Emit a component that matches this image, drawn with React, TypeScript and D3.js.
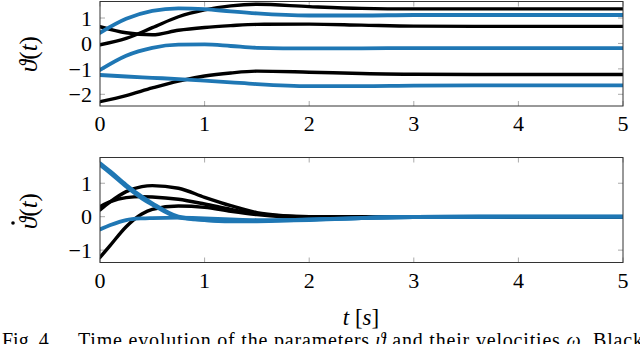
import React from "react";
import * as d3 from "d3";

// time samples (s)
const tTop = [0, 0.25, 0.5, 0.75, 1, 1.25, 1.5, 2, 2.5, 3, 4, 5];
const tBot = [0, 0.1, 0.25, 0.4, 0.5, 0.75, 1, 1.25, 1.5, 1.75, 2, 2.5, 3, 4, 5];

// parameters theta(t), black = one set, blue = the other
const thetaBlack = [
  [-0.05, 0.2, 0.62, 1.05, 1.32, 1.48, 1.54, 1.45, 1.38, 1.36, 1.36, 1.36],
  [0.66, 0.42, 0.34, 0.52, 0.63, 0.7, 0.75, 0.76, 0.72, 0.68, 0.67, 0.67],
  [-2.29, -2.05, -1.75, -1.48, -1.28, -1.16, -1.09, -1.13, -1.18, -1.21, -1.22, -1.22],
];
const thetaBlue = [
  [0.42, 0.97, 1.28, 1.38, 1.35, 1.26, 1.18, 1.1, 1.1, 1.12, 1.12, 1.12],
  [-1.04, -0.48, -0.17, -0.05, -0.04, -0.1, -0.17, -0.19, -0.19, -0.18, -0.18, -0.18],
  [-1.24, -1.3, -1.35, -1.4, -1.46, -1.53, -1.6, -1.68, -1.68, -1.66, -1.65, -1.65],
];

// velocities
const dthetaBlack = [
  [-1.22, -0.85, -0.3, 0.08, 0.22, 0.32, 0.28, 0.16, 0.06, 0.0, -0.02, -0.01, 0, 0, 0],
  [0.2, 0.45, 0.75, 0.9, 0.93, 0.85, 0.58, 0.33, 0.12, 0.03, 0, 0, 0, 0, 0],
  [0.3, 0.45, 0.57, 0.6, 0.59, 0.52, 0.38, 0.22, 0.09, 0.02, 0, 0, 0, 0, 0],
];
const dthetaBlue = [
  [1.6, 1.35, 0.95, 0.6, 0.4, 0.0, -0.1, -0.14, -0.14, -0.12, -0.1, -0.04, -0.01, 0, 0],
  [1.55, 1.3, 0.9, 0.55, 0.36, -0.02, -0.1, -0.13, -0.13, -0.11, -0.09, -0.04, -0.01, 0, 0],
  [-0.38, -0.25, -0.1, -0.05, -0.04, -0.03, -0.05, -0.08, -0.1, -0.1, -0.08, -0.04, -0.01, 0, 0],
];

const xTicks = [0, 1, 2, 3, 4, 5];
const yTicksTop = [-2, -1, 0, 1];
const yTicksBot = [-1, 0, 1];

const BLUE = "#1f77b4";
const FONT = "'Liberation Serif', 'DejaVu Serif', serif";

const x = d3.scaleLinear().domain([0, 5]).range([100, 623]);

function Panel({ y0, y1, domain, ticks, t, black, blue }: any) {
  const y = d3.scaleLinear().domain(domain).range([y1, y0]);
  const line = d3
    .line<number>()
    .x((_, i) => x(t[i]))
    .y((v) => y(v))
    .curve(d3.curveMonotoneX);
  return (
    <g>
      {xTicks.map((v) => (
        <g key={"x" + v} stroke="#aaa" strokeWidth={1}>
          <line x1={x(v)} x2={x(v)} y1={y1} y2={y1 - 5} />
          <line x1={x(v)} x2={x(v)} y1={y0} y2={y0 + 5} />
        </g>
      ))}
      {ticks.map((v: number) => (
        <g key={"y" + v} stroke="#aaa" strokeWidth={1}>
          <line x1={100} x2={105} y1={y(v)} y2={y(v)} />
          <line x1={623} x2={618} y1={y(v)} y2={y(v)} />
        </g>
      ))}
      <clipPath id={"clip" + Math.round(y0)}>
        <rect x={100} y={y0} width={523} height={y1 - y0} />
      </clipPath>
      <g clipPath={`url(#clip${Math.round(y0)})`} fill="none" strokeLinecap="round">
        {black.map((s: number[], i: number) => (
          <path key={"k" + i} d={line(s) || ""} stroke="#000" strokeWidth={3.4} />
        ))}
        {blue.map((s: number[], i: number) => (
          <path key={"b" + i} d={line(s) || ""} stroke={BLUE} strokeWidth={3.8} />
        ))}
      </g>
      <rect x={100} y={y0} width={523} height={y1 - y0} fill="none" stroke="#333" strokeWidth={1} />
      {ticks.map((v: number) => (
        <text key={"yl" + v} x={92} y={y(v)} dy="0.35em" textAnchor="end" fontSize={22}>
          {v < 0 ? "\u2212" + Math.abs(v) : v}
        </text>
      ))}
      {xTicks.map((v) => (
        <text key={"xl" + v} x={x(v)} y={y1 + 25} textAnchor="middle" fontSize={22}>
          {v}
        </text>
      ))}
    </g>
  );
}

export default function App() {
  return (
    <svg
      width={640}
      height={344}
      style={{ position: "absolute", left: 0, top: 0, display: "block", background: "#fff" }}
      fontFamily={FONT}
    >
      <Panel y0={1.5} y1={106} domain={[-2.46, 1.65]} ticks={yTicksTop} t={tTop} black={thetaBlack} blue={thetaBlue} />
      <Panel y0={157.5} y1={262.5} domain={[-1.37, 1.77]} ticks={yTicksBot} t={tBot} black={dthetaBlack} blue={dthetaBlue} />

      <text transform="translate(37,54) rotate(-90)" textAnchor="middle" fontSize={25}>
        <tspan fontStyle="italic">ϑ</tspan>(<tspan fontStyle="italic">t</tspan>)
      </text>
      <text transform="translate(37,211) rotate(-90)" textAnchor="middle" fontSize={25}>
        <tspan fontStyle="italic">ϑ</tspan>(<tspan fontStyle="italic">t</tspan>)
      </text>
      <circle cx={13} cy={223} r={1.8} fill="#000" />

      <text x={361} y={325} textAnchor="middle" fontSize={23}>
        <tspan fontStyle="italic">t</tspan> [<tspan fontStyle="italic">s</tspan>]
      </text>

      <text x={2} y={347} fontSize={20}>Fig. 4.</text>
      <text x={78} y={347} fontSize={20} textLength={565} lengthAdjust="spacing">
        Time evolution of the parameters <tspan fontStyle="italic">ϑ</tspan> and their velocities{" "}
        <tspan fontStyle="italic">ω</tspan>. Black
      </text>
    </svg>
  );
}
